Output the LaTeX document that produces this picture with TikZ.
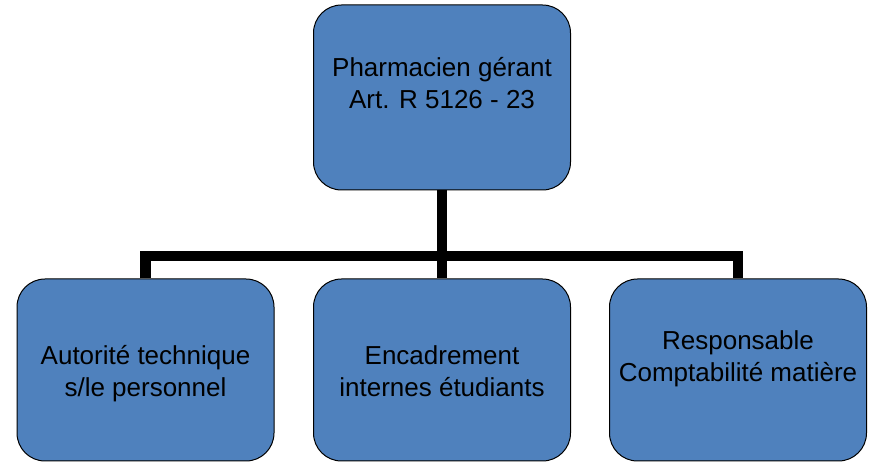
\documentclass[tikz,border=0pt]{standalone}
\usepackage{fontspec}
\setmainfont{Liberation Sans}
\definecolor{boxblue}{HTML}{4F81BD}
\tikzset{
  box/.style={draw=black, line width=1pt, fill=boxblue, rounded corners=28pt, minimum width=257pt, minimum height=182pt, inner sep=0pt},
  boxtxt/.style={align=center, font=\fontsize{26}{32}\selectfont, inner sep=0pt},
  conn/.style={line width=10.5pt, line join=miter, line cap=butt}
}
\begin{document}
\begin{tikzpicture}[x=1pt, y=-1pt]
  \useasboundingbox (0,0) rectangle (871,462);

  % boxes (positions in pixels, y downwards)
  \node[box, minimum height=185pt] (chef) at (442, 97.5) {};
  \node[box] (gauche) at (145.5, 370) {};
  \node[box] (milieu) at (442, 370) {};
  \node[box] (droite) at (738, 370) {};

  % connectors
  \coordinate (barre) at (442, 256);
  \draw[conn] (chef.south) -- (milieu.north);
  \draw[conn] (gauche.north) -- (gauche.north |- barre) -- (droite.north |- barre) -- (droite.north);

  % texts
  \node[boxtxt] (chefT) at ([yshift=14.5pt]chef.center) {Pharmacien gérant\\Art. R 5126 - 23};
  \node[boxtxt] (gaucheT) at ([yshift=-3.5pt]gauche.center) {Autorité technique\\s/le personnel};
  \node[boxtxt] (milieuT) at ([yshift=-1.5pt]milieu.center) {Encadrement\\internes étudiants};
  \node[boxtxt] (droiteT) at ([yshift=11pt]droite.center) {Responsable\\Comptabilité matière};
\end{tikzpicture}
\end{document}
